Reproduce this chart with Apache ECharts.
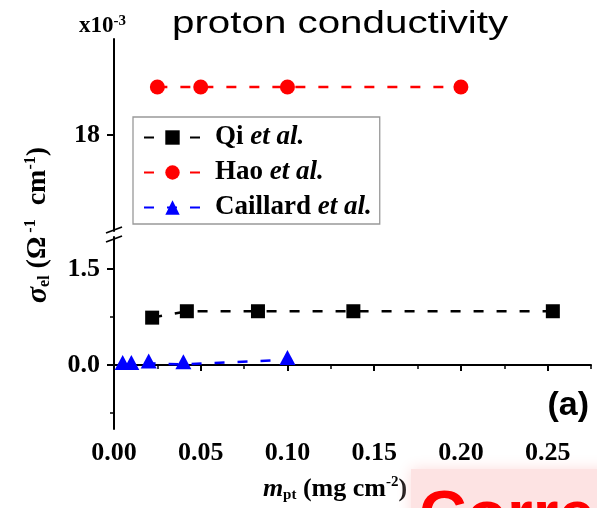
<!DOCTYPE html>
<html><head><meta charset="utf-8">
<script src="https://cdn.jsdelivr.net/npm/echarts@6/dist/echarts.min.js"></script>
<style>html,body{margin:0;padding:0;background:#fff}#c{width:597px;height:508px}</style>
</head><body><div id="c"></div>
<script>
// ---- data ----
const qiX = [0.022, 0.042, 0.083, 0.138, 0.253];
const qiY = [0.74, 0.84, 0.84, 0.84, 0.84];
const haoX = [0.025, 0.05, 0.10, 0.20];
const haoY = [19, 19, 19, 19];            // upper (x10^-3) segment
const caiX = [0.005, 0.01, 0.02, 0.04, 0.10];
const caiY = [0.0, 0.0, 0.025, 0.01, 0.08];
const seriesNames = ['Qi', 'Hao', 'Caillard'];
const xMajorTicks = [0, 0.05, 0.10, 0.15, 0.20, 0.25];
const xMinorTicks = [0.025, 0.075, 0.125, 0.175, 0.225, 0.275];
const yLowerMajor = [0, 1.5];
const yLowerMinor = [-0.75, 0.75];
const yUpperMajor = [18];

const zip = (a, b) => a.map((v, i) => [v, b[i]]);
const SERIF = 'Liberation Serif';
const tickFont = {fontFamily: SERIF, fontWeight: 'bold', fontSize: 26, color: '#000'};
const axLine = {show: true, lineStyle: {color: '#000', width: 2}};
const dash = [10, 13];

const chart = echarts.init(document.getElementById('c'), null, {renderer: 'canvas'});
chart.setOption({
  animation: false,
  backgroundColor: '#fff',
  grid: [
    {left: 114, right: 6, top: 237, height: 192},
    {left: 114, right: 6, top: 39, height: 192}
  ],
  xAxis: [
    {type: 'value', gridIndex: 0, min: 0, max: 0.275, position: 'bottom',
     axisLine: axLine, splitLine: {show: false},
     axisTick: {show: true, customValues: xMajorTicks, length: 6, lineStyle: {color: '#000', width: 2}},
     axisLabel: Object.assign({customValues: xMajorTicks, margin: 11, formatter: v => v.toFixed(2)}, tickFont)},
    {type: 'value', gridIndex: 0, min: 0, max: 0.275, position: 'bottom',
     axisLine: {show: false}, splitLine: {show: false}, axisLabel: {show: false},
     axisTick: {show: true, customValues: xMinorTicks, length: 4, lineStyle: {color: '#000', width: 1.5}}},
    {type: 'value', gridIndex: 1, min: 0, max: 0.275, show: false}
  ],
  yAxis: [
    {type: 'value', gridIndex: 0, min: -1, max: 2, position: 'left',
     axisLine: axLine, splitLine: {show: false},
     axisTick: {show: true, customValues: yLowerMajor, length: 7, lineStyle: {color: '#000', width: 2}},
     axisLabel: Object.assign({customValues: yLowerMajor, margin: 14, formatter: v => v.toFixed(1)}, tickFont)},
    {type: 'value', gridIndex: 0, min: -1, max: 2, position: 'left',
     axisLine: {show: false}, splitLine: {show: false}, axisLabel: {show: false},
     axisTick: {show: true, customValues: yLowerMinor, length: 4, lineStyle: {color: '#000', width: 1.5}}},
    {type: 'value', gridIndex: 1, min: 16, max: 20, position: 'left',
     axisLine: axLine, splitLine: {show: false},
     axisTick: {show: true, customValues: yUpperMajor, length: 7, lineStyle: {color: '#000', width: 2}},
     axisLabel: Object.assign({customValues: yUpperMajor, margin: 14, formatter: v => String(v)}, tickFont)}
  ],
  legend: {
    orient: 'vertical', left: 133, top: 117, padding: [7, 8, 3, 10], itemGap: 8,
    itemWidth: 57, itemHeight: 18, borderColor: '#999', borderWidth: 1.3,
    data: seriesNames,
    formatter: n => '{n|' + n + '} {i|et al.}',
    textStyle: {fontFamily: SERIF, fontWeight: 'bold', fontSize: 27, color: '#000',
      rich: {
        n: {fontFamily: SERIF, fontWeight: 'bold', fontSize: 27, color: '#000', padding: [0, 0, 0, 9]},
        i: {fontFamily: SERIF, fontWeight: 'bold', fontStyle: 'italic', fontSize: 27, color: '#000'}
      }}
  },
  series: [
    {name: seriesNames[0], type: 'line', xAxisIndex: 0, yAxisIndex: 0, data: zip(qiX, qiY),
     symbol: 'rect', symbolSize: 14, color: '#000',
     lineStyle: {type: dash, width: 2.5, color: '#000'}, itemStyle: {color: '#000'}},
    {name: seriesNames[1], type: 'line', xAxisIndex: 2, yAxisIndex: 2, data: zip(haoX, haoY),
     symbol: 'circle', symbolSize: 15, color: '#ff0000',
     lineStyle: {type: dash, width: 2.5, color: '#ff0000'}, itemStyle: {color: '#ff0000'}},
    {name: seriesNames[2], type: 'line', xAxisIndex: 0, yAxisIndex: 0, data: zip(caiX, caiY),
     symbol: 'triangle', symbolSize: [16, 15], symbolOffset: [0, -2.5], color: '#0000ff',
     lineStyle: {type: dash, width: 2.5, color: '#0000ff'}, itemStyle: {color: '#0000ff'}}
  ],
  graphic: [
    // axis break marks
    {type: 'line', shape: {x1: 106, y1: 233, x2: 122, y2: 227}, style: {stroke: '#000', lineWidth: 1.8}},
    {type: 'line', shape: {x1: 106, y1: 242, x2: 122, y2: 236}, style: {stroke: '#000', lineWidth: 1.8}},
    // title
    {type: 'text', x: 172, y: 24, scaleX: 1.26, style: {text: 'proton conductivity', fontFamily: 'Liberation Sans',
      fontSize: 32, fill: '#000', align: 'left', verticalAlign: 'middle'}},
    // multiplier
    {type: 'text', x: 79, y: 26, style: {text: '{t|x10}{s|-3}', align: 'left', verticalAlign: 'middle',
      rich: {t: {fontFamily: SERIF, fontWeight: 'bold', fontSize: 23, lineHeight: 24, fill: '#000'},
             s: {fontFamily: SERIF, fontWeight: 'bold', fontSize: 15, lineHeight: 12, verticalAlign: 'top', fill: '#000'}}}},
    // y axis title
    {type: 'text', x: 38, y: 225, rotation: Math.PI / 2, style: {
      text: '{g|σ}{sub|el}{t| (Ω}{sup| -1}{t|  cm}{sup|-1}{t|)}', align: 'center', verticalAlign: 'middle',
      rich: {g: {fontFamily: SERIF, fontStyle: 'italic', fontWeight: 'bold', fontSize: 30, lineHeight: 30, fill: '#000'},
             t: {fontFamily: SERIF, fontWeight: 'bold', fontSize: 28, lineHeight: 30, fill: '#000'},
             sub: {fontFamily: SERIF, fontWeight: 'bold', fontSize: 16, lineHeight: 14, verticalAlign: 'bottom', fill: '#000'},
             sup: {fontFamily: SERIF, fontWeight: 'bold', fontSize: 16, lineHeight: 14, verticalAlign: 'top', fill: '#000'}}}},
    // x axis title
    {type: 'text', x: 335, y: 489, style: {
      text: '{m|m}{sub|pt}{t| (mg cm}{sup|-2}{t|)}', align: 'center', verticalAlign: 'middle',
      rich: {m: {fontFamily: SERIF, fontStyle: 'italic', fontWeight: 'bold', fontSize: 26, lineHeight: 28, fill: '#000'},
             t: {fontFamily: SERIF, fontWeight: 'bold', fontSize: 26, lineHeight: 28, fill: '#000'},
             sub: {fontFamily: SERIF, fontWeight: 'bold', fontSize: 15, lineHeight: 12, verticalAlign: 'bottom', fill: '#000'},
             sup: {fontFamily: SERIF, fontWeight: 'bold', fontSize: 15, lineHeight: 14, verticalAlign: 'top', fill: '#000'}}}},
    // panel tag
    {type: 'text', x: 589, y: 406, style: {text: '(a)', fontFamily: 'Liberation Sans', fontWeight: 'bold',
      fontSize: 34, fill: '#000', align: 'right', verticalAlign: 'middle'}},
    // overlapping red heading cut off at the bottom-right
    {type: 'rect', shape: {x: 411, y: 469, width: 200, height: 60}, style: {fill: '#fde3e3', shadowBlur: 14, shadowColor: '#fcdcdc'}},
    {type: 'text', x: 419, y: 486, style: {text: 'Correlation', fontFamily: 'Liberation Sans', fontWeight: 'bold',
      fontSize: 66, fill: '#ff0000', align: 'left', verticalAlign: 'top'}}
  ]
});
</script>
</body></html>
